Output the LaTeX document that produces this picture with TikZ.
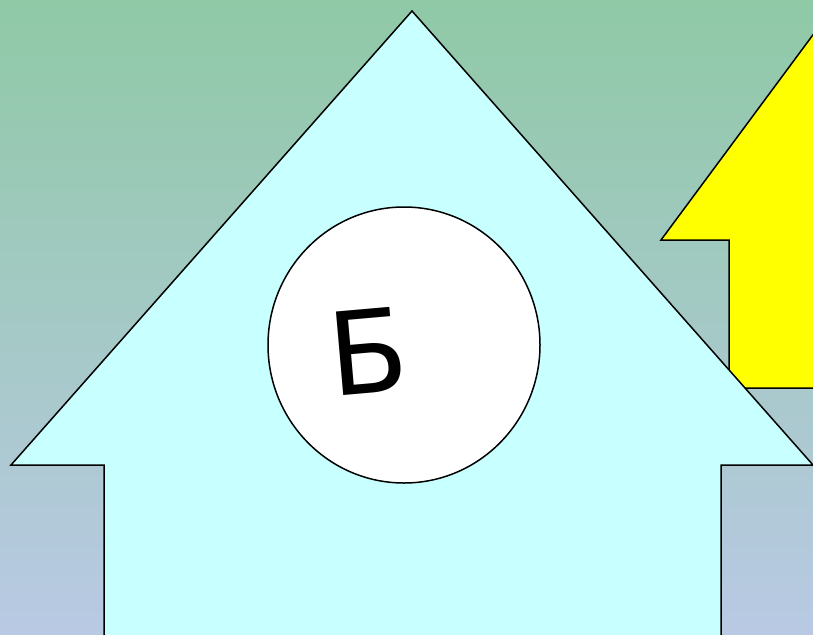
\documentclass[tikz,border=0pt]{standalone}
\usepackage{fontspec}
\usetikzlibrary{shapes.geometric}
\newfontfamily\dejavu{DejaVu Sans}
\definecolor{bgtop}{RGB}{143,201,166}
\definecolor{bgbot}{RGB}{185,201,228}
\definecolor{house}{RGB}{200,255,255}
\definecolor{pureyellow}{RGB}{255,255,0}
\tikzset{
  outline/.style={draw=black, line width=1.5pt, line join=miter},
}
\begin{document}
\begin{tikzpicture}[x=1pt,y=-1pt]
\useasboundingbox (0,0) rectangle (813,634);
\shade[top color=bgtop, bottom color=bgbot] (0,0) rectangle (813,634);
\begin{scope}
\clip (0,0) rectangle (813,634);
% yellow arrow behind
\path[outline, fill=pureyellow] (661,240) -- (898,-80) -- (1135,240) -- (1067,240) -- (1067,388) -- (729,388) -- (729,240) -- cycle;
% cyan house arrow
\path[outline, fill=house] (104,640) -- (104,465) -- (11,465) -- (412,11) -- (813,465) -- (721,465) -- (721,640);
\end{scope}
\node[outline, fill=white, ellipse, minimum width=272pt, minimum height=276pt, inner sep=0pt] (c) at (404,345) {};
\node[rotate=5, inner sep=0pt] (b) at (368,351) {\dejavu\fontsize{115}{120}\selectfont Б};
\end{tikzpicture}
\end{document}
